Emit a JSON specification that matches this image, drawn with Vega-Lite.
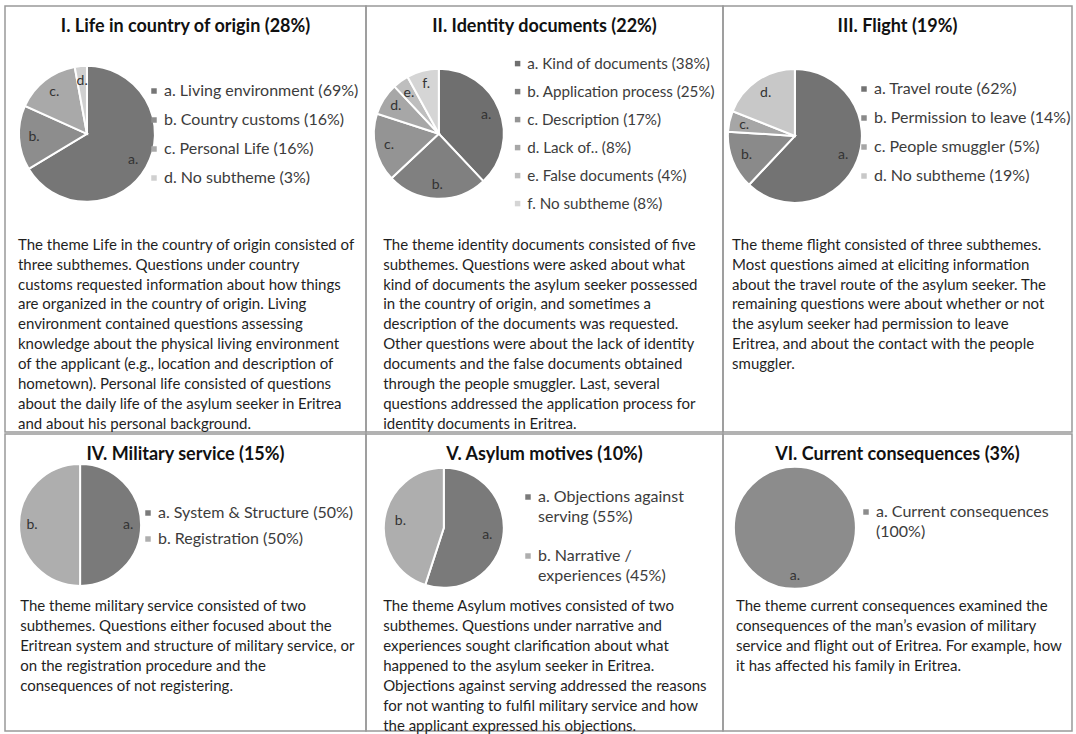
{
  "$schema": "https://vega.github.io/schema/vega-lite/v6.json",
  "padding": {"left": 4, "top": 5, "right": 5, "bottom": 4},
  "background": "white",
  "datasets": {
    "slices": [
      {"panel": "I", "sub": "a. Living environment (69%)", "letter": "a.", "value": 69},
      {"panel": "I", "sub": "b. Country customs (16%)", "letter": "b.", "value": 16},
      {"panel": "I", "sub": "c. Personal Life (16%)", "letter": "c.", "value": 16},
      {"panel": "I", "sub": "d. No subtheme (3%)", "letter": "d.", "value": 3},
      {"panel": "II", "sub": "a. Kind of documents  (38%)", "letter": "a.", "value": 38},
      {"panel": "II", "sub": "b. Application process (25%)", "letter": "b.", "value": 25},
      {"panel": "II", "sub": "c. Description (17%)", "letter": "c.", "value": 17},
      {"panel": "II", "sub": "d. Lack of.. (8%)", "letter": "d.", "value": 8},
      {"panel": "II", "sub": "e. False documents (4%)", "letter": "e.", "value": 4},
      {"panel": "II", "sub": "f. No subtheme (8%)", "letter": "f.", "value": 8},
      {"panel": "III", "sub": "a. Travel route (62%)", "letter": "a.", "value": 62},
      {"panel": "III", "sub": "b. Permission to leave (14%)", "letter": "b.", "value": 14},
      {"panel": "III", "sub": "c. People smuggler (5%)", "letter": "c.", "value": 5},
      {"panel": "III", "sub": "d. No subtheme (19%)", "letter": "d.", "value": 19},
      {"panel": "IV", "sub": "a. System & Structure (50%)", "letter": "a.", "value": 50},
      {"panel": "IV", "sub": "b. Registration (50%)", "letter": "b.", "value": 50},
      {"panel": "V", "sub": "a. Objections against\nserving (55%)", "letter": "a.", "value": 55},
      {"panel": "V", "sub": "b. Narrative /\nexperiences (45%)", "letter": "b.", "value": 45},
      {"panel": "VI", "sub": "a. Current consequences\n(100%)", "letter": "a.", "value": 100}
    ],
    "notes": [
      {"panel": "I", "text": "The theme Life in the country of origin consisted of\nthree subthemes. Questions under country\ncustoms requested information about how things\nare organized in the country of origin. Living\nenvironment contained questions assessing\nknowledge about the physical living environment\nof the applicant (e.g., location and description of\nhometown).  Personal life consisted of questions\nabout the daily life of the asylum seeker in Eritrea\nand about his personal background."},
      {"panel": "II", "text": "The theme identity documents consisted of five\nsubthemes. Questions were asked about what\nkind of documents the asylum seeker possessed\nin the country of origin, and sometimes a\ndescription of the documents  was requested.\nOther questions were about the lack of identity\ndocuments and the false documents obtained\nthrough the people smuggler. Last, several\nquestions addressed the application process for\nidentity documents  in Eritrea."},
      {"panel": "III", "text": "The theme flight consisted of three subthemes.\nMost questions aimed at eliciting information\nabout the travel route of the asylum seeker. The\nremaining questions were about whether or not\nthe asylum seeker had permission to leave\nEritrea, and about the contact with the people\nsmuggler."},
      {"panel": "IV", "text": "The theme military service consisted of two\nsubthemes. Questions either focused about the\nEritrean system and structure of military service, or\non the registration procedure and the\nconsequences of not registering."},
      {"panel": "V", "text": "The theme Asylum motives consisted of two\nsubthemes. Questions under narrative and\nexperiences sought clarification about what\nhappened to the asylum seeker in Eritrea.\nObjections against serving addressed the reasons\nfor not wanting to fulfil military service and how\nthe applicant expressed his objections."},
      {"panel": "VI", "text": "The theme current consequences examined the\nconsequences of the man\u2019s evasion of military\nservice and flight out of Eritrea. For example, how\nit has affected his family in Eritrea."}
    ]
  },
  "spacing": 0,
  "resolve": {"scale": {"color": "independent", "theta": "independent"}, "legend": {"color": "independent"}},
  "vconcat": [
    {
      "spacing": 0,
      "bounds": "flush",
      "resolve": {"scale": {"color": "independent", "theta": "independent"}, "legend": {"color": "independent"}},
      "hconcat": [
        {
          "width": 361, "height": 426,
          "title": "I. Life in country of origin (28%)",
          "layer": [
            {
              "data": {"name": "slices"},
              "transform": [{"filter": "datum.panel === 'I'"}],
              "mark": {"type": "arc", "outerRadius": 68, "stroke": "white", "strokeWidth": 2},
              "encoding": {
                "theta": {"field": "value", "type": "quantitative", "stack": true},
                "color": {"field": "sub", "type": "nominal", "scale": {"range": ["#767676", "#8d8d8d", "#a9a9a9", "#d0d0d0"]},
                  "legend": {"orient": "none", "legendX": 141, "legendY": 77, "rowPadding": 13, "labelOffset": 2}},
                "x": {"datum": 22.7, "type": "quantitative", "scale": {"domain": [0, 100]}, "axis": null},
                "y": {"datum": 30.0, "type": "quantitative", "scale": {"domain": [0, 100], "reverse": true}, "axis": null}
              }
            },
            {
              "data": {"name": "slices"},
              "transform": [{"filter": "datum.panel === 'I'"}],
              "mark": {"type": "text", "radius": 53, "fontSize": 14, "fill": "#333333", "font": "Lato"},
              "encoding": {
                "theta": {"field": "value", "type": "quantitative", "stack": true},
                "detail": {"field": "sub", "type": "nominal"},
                "text": {"field": "letter", "type": "nominal"},
                "x": {"datum": 22.7, "type": "quantitative"},
                "y": {"datum": 30.0, "type": "quantitative"}
              }
            },
            {
              "data": {"name": "notes"},
              "transform": [{"filter": "datum.panel === 'I'"}],
              "mark": {"type": "text", "align": "left", "baseline": "top", "lineBreak": "\n", "lineHeight": 19.9, "fontSize": 15, "fill": "#1f1f1f", "font": "Lato"},
              "encoding": {
                "text": {"field": "text", "type": "nominal"},
                "x": {"datum": 3.6, "type": "quantitative"},
                "y": {"datum": 54.4, "type": "quantitative"}
              }
            }
          ]
        },
        {
          "width": 357, "height": 426,
          "title": "II. Identity documents (22%)",
          "layer": [
            {
              "data": {"name": "slices"},
              "transform": [{"filter": "datum.panel === 'II'"}],
              "mark": {"type": "arc", "outerRadius": 65, "stroke": "white", "strokeWidth": 2},
              "encoding": {
                "theta": {"field": "value", "type": "quantitative", "stack": true},
                "color": {"field": "sub", "type": "nominal", "scale": {"range": ["#6f6f6f", "#808080", "#949494", "#a7a7a7", "#bebebe", "#d5d5d5"]},
                  "legend": {"orient": "none", "legendX": 144, "legendY": 50, "rowPadding": 12, "labelFontSize": 15.2, "labelOffset": 2}},
                "x": {"datum": 20.4, "type": "quantitative", "scale": {"domain": [0, 100]}, "axis": null},
                "y": {"datum": 30.0, "type": "quantitative", "scale": {"domain": [0, 100], "reverse": true}, "axis": null}
              }
            },
            {
              "data": {"name": "slices"},
              "transform": [{"filter": "datum.panel === 'II'"}],
              "mark": {"type": "text", "radius": 51, "fontSize": 14, "fill": "#333333", "font": "Lato"},
              "encoding": {
                "theta": {"field": "value", "type": "quantitative", "stack": true},
                "detail": {"field": "sub", "type": "nominal"},
                "text": {"field": "letter", "type": "nominal"},
                "x": {"datum": 20.4, "type": "quantitative"},
                "y": {"datum": 30.0, "type": "quantitative"}
              }
            },
            {
              "data": {"name": "notes"},
              "transform": [{"filter": "datum.panel === 'II'"}],
              "mark": {"type": "text", "align": "left", "baseline": "top", "lineBreak": "\n", "lineHeight": 19.9, "fontSize": 15, "fill": "#1f1f1f", "font": "Lato"},
              "encoding": {
                "text": {"field": "text", "type": "nominal"},
                "x": {"datum": 4.8, "type": "quantitative"},
                "y": {"datum": 54.4, "type": "quantitative"}
              }
            }
          ]
        },
        {
          "width": 349, "height": 426,
          "title": "III. Flight (19%)",
          "layer": [
            {
              "data": {"name": "slices"},
              "transform": [{"filter": "datum.panel === 'III'"}],
              "mark": {"type": "arc", "outerRadius": 67, "stroke": "white", "strokeWidth": 2},
              "encoding": {
                "theta": {"field": "value", "type": "quantitative", "stack": true},
                "color": {"field": "sub", "type": "nominal", "scale": {"range": ["#737373", "#8a8a8a", "#a6a6a6", "#c8c8c8"]},
                  "legend": {"orient": "none", "legendX": 133, "legendY": 75, "rowPadding": 13, "labelOffset": 2}},
                "x": {"datum": 20.6, "type": "quantitative", "scale": {"domain": [0, 100]}, "axis": null},
                "y": {"datum": 30.5, "type": "quantitative", "scale": {"domain": [0, 100], "reverse": true}, "axis": null}
              }
            },
            {
              "data": {"name": "slices"},
              "transform": [{"filter": "datum.panel === 'III'"}],
              "mark": {"type": "text", "radius": 52, "fontSize": 14, "fill": "#333333", "font": "Lato"},
              "encoding": {
                "theta": {"field": "value", "type": "quantitative", "stack": true},
                "detail": {"field": "sub", "type": "nominal"},
                "text": {"field": "letter", "type": "nominal"},
                "x": {"datum": 20.6, "type": "quantitative"},
                "y": {"datum": 30.5, "type": "quantitative"}
              }
            },
            {
              "data": {"name": "notes"},
              "transform": [{"filter": "datum.panel === 'III'"}],
              "mark": {"type": "text", "align": "left", "baseline": "top", "lineBreak": "\n", "lineHeight": 19.9, "fontSize": 15, "fill": "#1f1f1f", "font": "Lato"},
              "encoding": {
                "text": {"field": "text", "type": "nominal"},
                "x": {"datum": 2.6, "type": "quantitative"},
                "y": {"datum": 54.4, "type": "quantitative"}
              }
            }
          ]
        }
      ]
    },
    {
      "spacing": 0,
      "bounds": "flush",
      "resolve": {"scale": {"color": "independent", "theta": "independent"}, "legend": {"color": "independent"}},
      "hconcat": [
        {
          "width": 361, "height": 297,
          "title": "IV. Military service (15%)",
          "layer": [
            {
              "data": {"name": "slices"},
              "transform": [{"filter": "datum.panel === 'IV'"}],
              "mark": {"type": "arc", "outerRadius": 61, "stroke": "white", "strokeWidth": 2},
              "encoding": {
                "theta": {"field": "value", "type": "quantitative", "stack": true},
                "color": {"field": "sub", "type": "nominal", "scale": {"range": ["#7a7a7a", "#aeaeae"]},
                  "legend": {"orient": "none", "legendX": 135, "legendY": 71, "rowPadding": 10, "labelOffset": 2}},
                "x": {"datum": 20.8, "type": "quantitative", "scale": {"domain": [0, 100]}, "axis": null},
                "y": {"datum": 30.6, "type": "quantitative", "scale": {"domain": [0, 100], "reverse": true}, "axis": null}
              }
            },
            {
              "data": {"name": "slices"},
              "transform": [{"filter": "datum.panel === 'IV'"}],
              "mark": {"type": "text", "radius": 48, "fontSize": 14, "fill": "#333333", "font": "Lato"},
              "encoding": {
                "theta": {"field": "value", "type": "quantitative", "stack": true},
                "detail": {"field": "sub", "type": "nominal"},
                "text": {"field": "letter", "type": "nominal"},
                "x": {"datum": 20.8, "type": "quantitative"},
                "y": {"datum": 30.6, "type": "quantitative"}
              }
            },
            {
              "data": {"name": "notes"},
              "transform": [{"filter": "datum.panel === 'IV'"}],
              "mark": {"type": "text", "align": "left", "baseline": "top", "lineBreak": "\n", "lineHeight": 19.9, "fontSize": 15, "fill": "#1f1f1f", "font": "Lato"},
              "encoding": {
                "text": {"field": "text", "type": "nominal"},
                "x": {"datum": 4.2, "type": "quantitative"},
                "y": {"datum": 55.6, "type": "quantitative"}
              }
            }
          ]
        },
        {
          "width": 357, "height": 297,
          "title": "V. Asylum motives (10%)",
          "layer": [
            {
              "data": {"name": "slices"},
              "transform": [{"filter": "datum.panel === 'V'"}],
              "mark": {"type": "arc", "outerRadius": 60, "stroke": "white", "strokeWidth": 2},
              "encoding": {
                "theta": {"field": "value", "type": "quantitative", "stack": true},
                "color": {"field": "sub", "type": "nominal", "scale": {"range": ["#7a7a7a", "#aeaeae"]},
                  "legend": {"orient": "none", "legendX": 154, "legendY": 55, "rowPadding": 23, "labelOffset": 2, "labelExpr": "split(datum.label, '\\n')"}},
                "x": {"datum": 21.8, "type": "quantitative", "scale": {"domain": [0, 100]}, "axis": null},
                "y": {"datum": 31.6, "type": "quantitative", "scale": {"domain": [0, 100], "reverse": true}, "axis": null}
              }
            },
            {
              "data": {"name": "slices"},
              "transform": [{"filter": "datum.panel === 'V'"}],
              "mark": {"type": "text", "radius": 44, "fontSize": 14, "fill": "#333333", "font": "Lato"},
              "encoding": {
                "theta": {"field": "value", "type": "quantitative", "stack": true},
                "detail": {"field": "sub", "type": "nominal"},
                "text": {"field": "letter", "type": "nominal"},
                "x": {"datum": 21.8, "type": "quantitative"},
                "y": {"datum": 31.6, "type": "quantitative"}
              }
            },
            {
              "data": {"name": "notes"},
              "transform": [{"filter": "datum.panel === 'V'"}],
              "mark": {"type": "text", "align": "left", "baseline": "top", "lineBreak": "\n", "lineHeight": 19.9, "fontSize": 15, "fill": "#1f1f1f", "font": "Lato"},
              "encoding": {
                "text": {"field": "text", "type": "nominal"},
                "x": {"datum": 4.8, "type": "quantitative"},
                "y": {"datum": 55.6, "type": "quantitative"}
              }
            }
          ]
        },
        {
          "width": 349, "height": 297,
          "title": "VI. Current consequences (3%)",
          "layer": [
            {
              "data": {"name": "slices"},
              "transform": [{"filter": "datum.panel === 'VI'"}],
              "mark": {"type": "arc", "outerRadius": 61, "stroke": "white", "strokeWidth": 2},
              "encoding": {
                "theta": {"field": "value", "type": "quantitative", "stack": true},
                "color": {"field": "sub", "type": "nominal", "scale": {"range": ["#8c8c8c"]},
                  "legend": {"orient": "none", "legendX": 135, "legendY": 70, "labelOffset": 2, "labelExpr": "split(datum.label, '\\n')"}},
                "x": {"datum": 20.6, "type": "quantitative", "scale": {"domain": [0, 100]}, "axis": null},
                "y": {"datum": 31.6, "type": "quantitative", "scale": {"domain": [0, 100], "reverse": true}, "axis": null}
              }
            },
            {
              "data": {"name": "slices"},
              "transform": [{"filter": "datum.panel === 'VI'"}],
              "mark": {"type": "text", "radius": 48, "fontSize": 14, "fill": "#333333", "font": "Lato"},
              "encoding": {
                "theta": {"field": "value", "type": "quantitative", "stack": true},
                "detail": {"field": "sub", "type": "nominal"},
                "text": {"field": "letter", "type": "nominal"},
                "x": {"datum": 20.6, "type": "quantitative"},
                "y": {"datum": 31.6, "type": "quantitative"}
              }
            },
            {
              "data": {"name": "notes"},
              "transform": [{"filter": "datum.panel === 'VI'"}],
              "mark": {"type": "text", "align": "left", "baseline": "top", "lineBreak": "\n", "lineHeight": 19.9, "fontSize": 15, "fill": "#1f1f1f", "font": "Lato"},
              "encoding": {
                "text": {"field": "text", "type": "nominal"},
                "x": {"datum": 3.7, "type": "quantitative"},
                "y": {"datum": 55.6, "type": "quantitative"}
              }
            }
          ]
        }
      ]
    }
  ],
  "config": {
    "font": "Lato",
    "view": {"stroke": "#999999", "strokeWidth": 1.5},
    "title": {"font": "Lato", "fontSize": 18, "fontWeight": "bold", "color": "#111111", "offset": -30, "baseline": "alphabetic", "anchor": "middle", "frame": "group"},
    "legend": {"title": null, "labelFont": "Lato", "labelFontSize": 16, "labelColor": "#3c3c3c", "symbolType": "square", "symbolSize": 30, "symbolStrokeWidth": 0, "labelOffset": 0, "labelLimit": 400, "padding": 0},
    "style": {"guide-label": {"lineHeight": 20}}
  }
}
